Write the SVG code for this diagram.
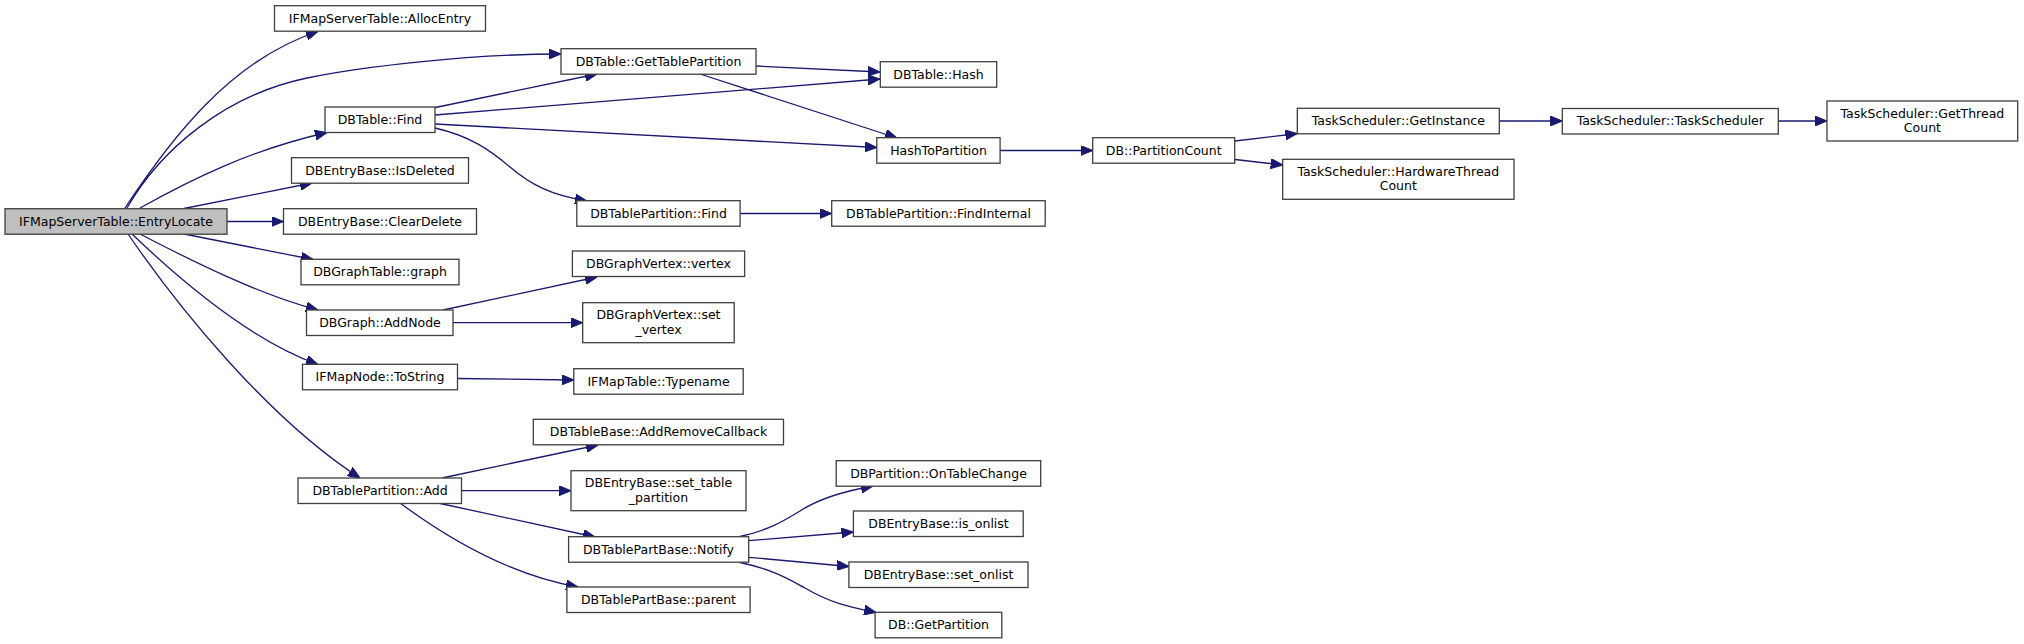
<svg xmlns="http://www.w3.org/2000/svg" width="2024" height="644" viewBox="0 0 2024 644">
<style>
.n rect{fill:#ffffff;stroke:#3f3f3f;stroke-width:1.3}
.root rect{fill:#bfbfbf}
text{font-family:"DejaVu Sans","Liberation Sans",sans-serif;font-size:12.5px;text-anchor:middle;fill:#000}
.e path{fill:none;stroke:#191970;stroke-width:1.3;marker-end:url(#ah)}
</style>
<defs>
<marker id="ah" viewBox="0 0 12 10" refX="12" refY="5" markerWidth="12" markerHeight="10" markerUnits="userSpaceOnUse" orient="auto">
<path d="M0,0 L12,5 L0,10 z" fill="#191970" stroke="#191970" stroke-width="1"/>
</marker>
</defs>
<rect width="2024" height="644" fill="#ffffff"/>
<g class="e" id="connectors">
<path d="M125,208 C170,140 230,60 318,31.5"/>
<path d="M127,208 C160,150 225,95 307,78 C360,67 470,54 561,54"/>
<path d="M140,208 C190,180 250,150 327,132.5"/>
<path d="M184,208.5 L312,183"/>
<path d="M227,221.5 L283.5,221.5"/>
<path d="M184,234 L313,259.5"/>
<path d="M140,234 C190,260 260,295 318,310"/>
<path d="M132,234 C180,280 250,340 318,364.5"/>
<path d="M128,234 C180,310 270,420 360,478"/>
<path d="M433,108 L597,74"/>
<path d="M435,115 L880,79"/>
<path d="M435,124 L877,147.5"/>
<path d="M435,128 C470,136 490,150 510,167 C530,184 550,195 587,201"/>
<path d="M756,66 L880,72"/>
<path d="M700,74 L897,138"/>
<path d="M1000,150.5 L1092.7,150.5"/>
<path d="M740,213.5 L831.7,213.5"/>
<path d="M1235,141 L1297.3,133.5"/>
<path d="M1235,159.5 L1282.7,165"/>
<path d="M1499.3,121 L1562.3,121"/>
<path d="M1778.3,121 L1827,121"/>
<path d="M443,310 L597,277"/>
<path d="M453,322.7 L582.7,322.7"/>
<path d="M457.5,378.5 L573.8,380"/>
<path d="M442,478 L598,445"/>
<path d="M461.5,490.7 L571,490.7"/>
<path d="M438,503 L595,537"/>
<path d="M400,503 C450,540 510,575 578,587"/>
<path d="M740,536.5 C770,530 785,520 800,511 C820,498 845,491 873,486"/>
<path d="M748.7,540.7 L853.4,532"/>
<path d="M748.7,557.3 L849,566.5"/>
<path d="M740,562.5 C775,570 790,580 805,588 C830,603 850,607 876,612.5"/>
</g>
<g id="n_EntryLocate" class="n root"><rect x="5" y="208.7" width="222" height="25.5"/><text x="116" y="225.5">IFMapServerTable::EntryLocate</text></g>
<g id="n_AllocEntry" class="n"><rect x="274.5" y="5.7" width="211" height="25.5"/><text x="380" y="22.5">IFMapServerTable::AllocEntry</text></g>
<g id="n_Find" class="n"><rect x="325" y="107" width="110" height="25.5"/><text x="380" y="123.8">DBTable::Find</text></g>
<g id="n_IsDeleted" class="n"><rect x="291.5" y="157.7" width="177" height="25.5"/><text x="380" y="174.5">DBEntryBase::IsDeleted</text></g>
<g id="n_ClearDelete" class="n"><rect x="283.5" y="208.7" width="193" height="25.5"/><text x="380" y="225.5">DBEntryBase::ClearDelete</text></g>
<g id="n_graph" class="n"><rect x="301" y="259.3" width="158" height="25.5"/><text x="380" y="276.1">DBGraphTable::graph</text></g>
<g id="n_AddNode" class="n"><rect x="306.5" y="310" width="146.5" height="25.5"/><text x="380" y="326.8">DBGraph::AddNode</text></g>
<g id="n_ToString" class="n"><rect x="302.5" y="364.3" width="155" height="25.5"/><text x="380" y="381.1">IFMapNode::ToString</text></g>
<g id="n_Add" class="n"><rect x="298" y="478" width="163.5" height="25.5"/><text x="380" y="494.8">DBTablePartition::Add</text></g>
<g id="n_GetTablePartition" class="n"><rect x="561" y="48.7" width="195" height="25.5"/><text x="658.5" y="65.5">DBTable::GetTablePartition</text></g>
<g id="n_PFind" class="n"><rect x="576.8" y="200.7" width="163.3" height="25.5"/><text x="658.5" y="217.5">DBTablePartition::Find</text></g>
<g id="n_vertex" class="n"><rect x="572.4" y="251" width="172.2" height="25.5"/><text x="658.5" y="267.8">DBGraphVertex::vertex</text></g>
<g id="n_set_vertex" class="n"><rect x="582.7" y="302.7" width="151.5" height="40"/><text x="658.5" y="319.2">DBGraphVertex::set</text><text x="658.5" y="333.7">_vertex</text></g>
<g id="n_Typename" class="n"><rect x="573.8" y="368.7" width="169.4" height="25.5"/><text x="658.5" y="385.5">IFMapTable::Typename</text></g>
<g id="n_AddRemoveCallback" class="n"><rect x="533.3" y="419.3" width="250.2" height="25.5"/><text x="658.5" y="436.1">DBTableBase::AddRemoveCallback</text></g>
<g id="n_set_table_partition" class="n"><rect x="571" y="470.7" width="175" height="40"/><text x="658.5" y="487.2">DBEntryBase::set_table</text><text x="658.5" y="501.7">_partition</text></g>
<g id="n_Notify" class="n"><rect x="568.6" y="536.7" width="180.1" height="25.5"/><text x="658.5" y="553.5">DBTablePartBase::Notify</text></g>
<g id="n_parent" class="n"><rect x="566.9" y="587" width="183.2" height="25.5"/><text x="658.5" y="603.8">DBTablePartBase::parent</text></g>
<g id="n_Hash" class="n"><rect x="880.3" y="61.7" width="116.4" height="25.5"/><text x="938.5" y="78.5">DBTable::Hash</text></g>
<g id="n_HashToPartition" class="n"><rect x="876.8" y="137.7" width="123.3" height="25.5"/><text x="938.5" y="154.5">HashToPartition</text></g>
<g id="n_FindInternal" class="n"><rect x="831.7" y="200.7" width="213.5" height="25.5"/><text x="938.5" y="217.5">DBTablePartition::FindInternal</text></g>
<g id="n_OnTableChange" class="n"><rect x="836.2" y="460.7" width="204.5" height="25.5"/><text x="938.5" y="477.5">DBPartition::OnTableChange</text></g>
<g id="n_is_onlist" class="n"><rect x="853.4" y="511" width="169.8" height="25.5"/><text x="938.5" y="527.8">DBEntryBase::is_onlist</text></g>
<g id="n_set_onlist" class="n"><rect x="848.9" y="562" width="179.1" height="25.5"/><text x="938.5" y="578.8">DBEntryBase::set_onlist</text></g>
<g id="n_GetPartition" class="n"><rect x="875.1" y="612.3" width="126.7" height="25.5"/><text x="938.5" y="629.1">DB::GetPartition</text></g>
<g id="n_PartitionCount" class="n"><rect x="1092.7" y="137.7" width="142" height="25.5"/><text x="1163.7" y="154.5">DB::PartitionCount</text></g>
<g id="n_GetInstance" class="n"><rect x="1297.3" y="108.3" width="202" height="25.5"/><text x="1398.3" y="125.1">TaskScheduler::GetInstance</text></g>
<g id="n_HardwareThreadCount" class="n"><rect x="1282.7" y="159.3" width="231.3" height="40"/><text x="1398.3" y="175.8">TaskScheduler::HardwareThread</text><text x="1398.3" y="190.3">Count</text></g>
<g id="n_TaskScheduler" class="n"><rect x="1562.3" y="108.5" width="216" height="25.5"/><text x="1670.3" y="125.3">TaskScheduler::TaskScheduler</text></g>
<g id="n_GetThreadCount" class="n"><rect x="1827" y="101" width="190.7" height="40"/><text x="1922.4" y="117.5">TaskScheduler::GetThread</text><text x="1922.4" y="132">Count</text></g>
</svg>
